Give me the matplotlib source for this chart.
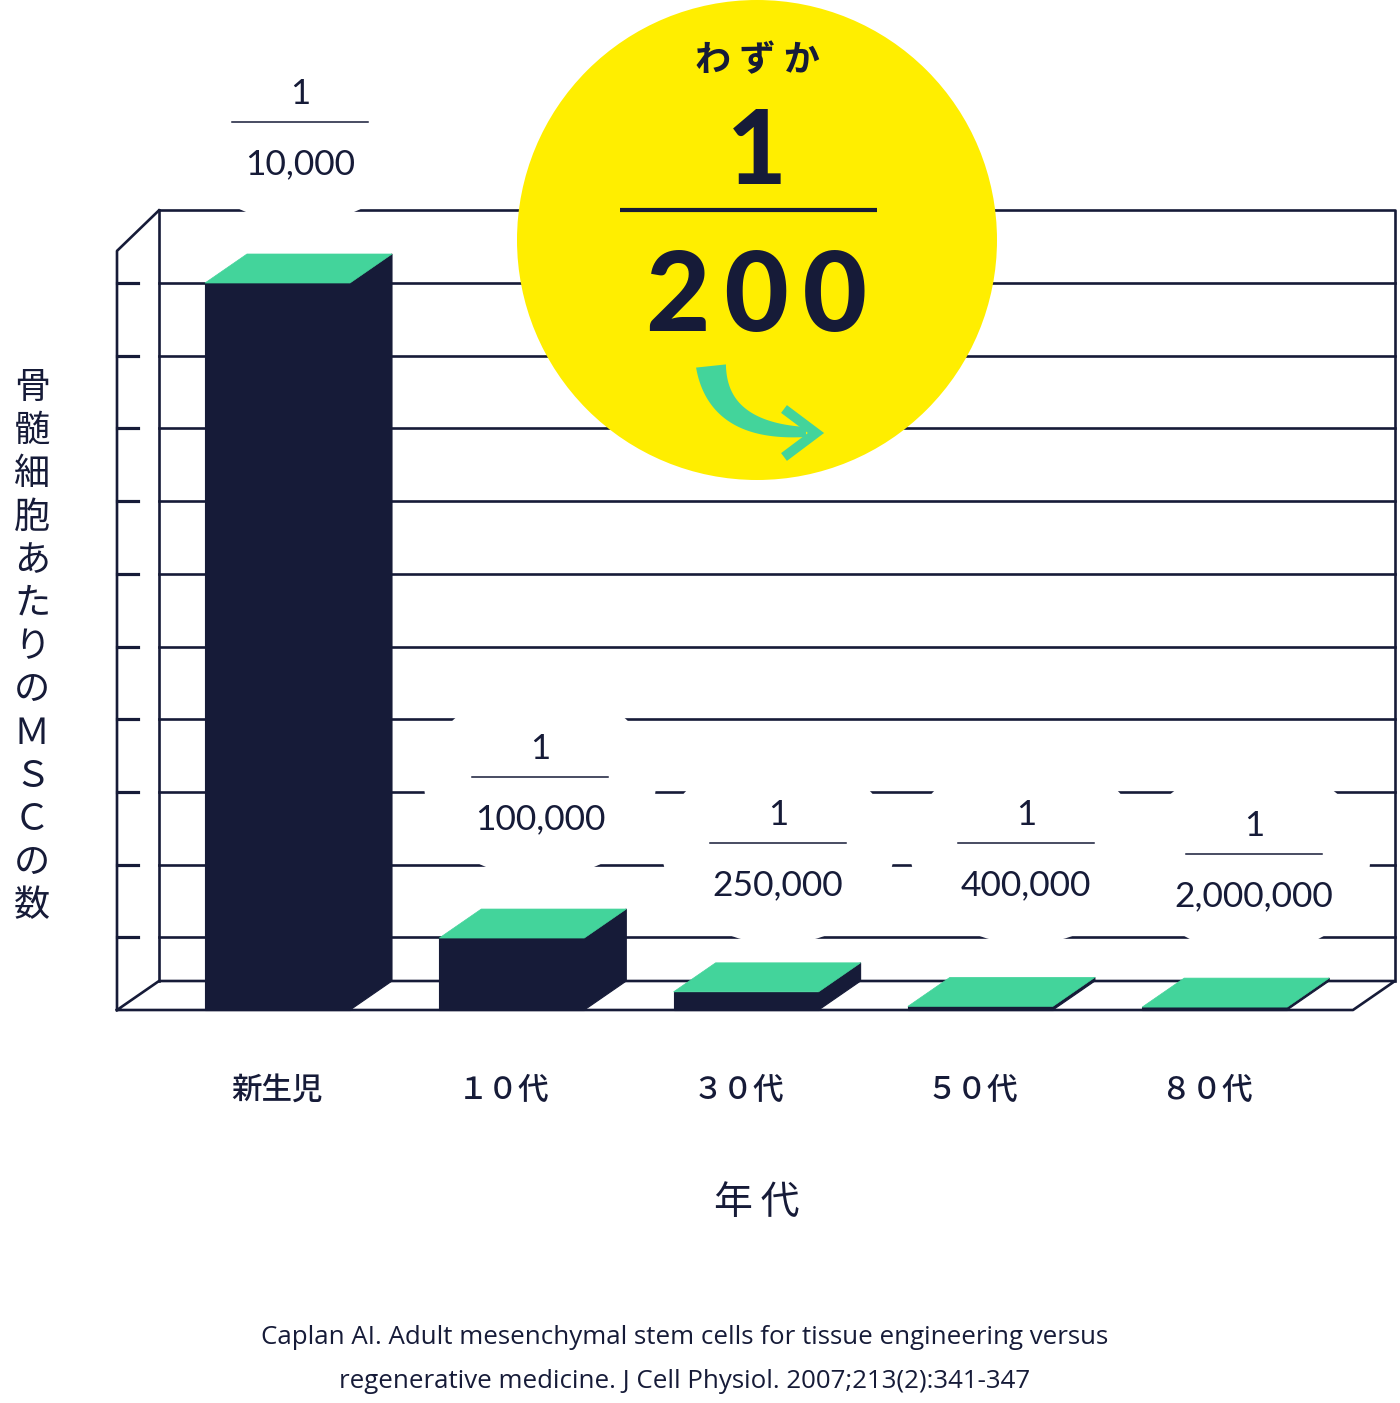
import numpy as np
import matplotlib
matplotlib.use("Agg")
import matplotlib.pyplot as plt
from matplotlib.patches import Polygon, Ellipse

plt.rcParams['font.family'] = ['Noto Sans CJK JP', 'DejaVu Sans']

# ---------------- data ----------------
categories = ["新生児", "１０代", "３０代", "５０代", "８０代"]
denominators = ["10,000", "100,000", "250,000", "400,000", "2,000,000"]
# bar heights in grid units as drawn in the picture (newborn = 10 units)
bar_heights = [10.0, 0.99, 0.25, 0.05, 0.04]
y_label = "骨髄細胞あたりのＭＳＣの数"
x_label = "年代"
badge_lead = "わずか"
badge_num = "1"
badge_den = "200"
citation = ["Caplan AI. Adult mesenchymal stem cells for tissue engineering versus",
            "regenerative medicine. J Cell Physiol. 2007;213(2):341-347"]

NAVY = "#161b38"
GREEN = "#43d49b"
YELLOW = "#ffee00"

W, H = 1400, 1403
fig = plt.figure(figsize=(W / 100, H / 100), dpi=100)
ax = fig.add_axes([0, 0, 1, 1])
# x in pixels, y in grid units (0 at floor front, 1 unit = 72.7 px)
UNIT = 72.7
Y0 = 1010
ax.set_xlim(0, W)
ax.set_ylim((Y0 - H) / UNIT, Y0 / UNIT)
ax.axis("off")

def u(ypx):
    return (Y0 - ypx) / UNIT

DX = 42              # depth offset in px
DY = 29 / UNIT       # depth offset in units
N_GRID = 10
TOP = 11             # top of the back wall in units
X_FRONT_L = 117
X_BACK_L = X_FRONT_L + DX
X_BACK_R = 1395
X_FRONT_R = X_BACK_R - DX
lw = 1.9

# ---------- frame ----------
ax.plot([X_BACK_L, X_BACK_R, X_BACK_R], [TOP, TOP, DY], color=NAVY, lw=lw, zorder=2)
ax.plot([X_BACK_L, X_BACK_L], [TOP, DY], color=NAVY, lw=lw, zorder=2)
ax.plot([X_FRONT_L, X_FRONT_L, X_BACK_L], [0, TOP - DY * 1.4, TOP], color=NAVY, lw=lw, zorder=2)
ax.plot([X_FRONT_L, X_FRONT_R, X_BACK_R, X_BACK_L, X_FRONT_L],
        [0, 0, DY, DY, 0], color=NAVY, lw=lw, zorder=2)
for k in range(1, N_GRID + 1):
    ax.plot([X_BACK_L, X_BACK_R], [k, k], color=NAVY, lw=lw, zorder=2)
    ax.plot([X_FRONT_L, X_FRONT_L + 21], [k, k], color=NAVY, lw=lw * 1.2, zorder=2)

# ---------- bars ----------
bar_left0 = 205
bar_w = 145
pitch = 234.3
for i, h in enumerate(bar_heights):
    x0 = bar_left0 + i * pitch
    x1 = x0 + bar_w
    ax.add_patch(Polygon([(x0, 0), (x1, 0), (x1, h), (x0, h)], closed=True,
                         facecolor=NAVY, edgecolor=NAVY, lw=0.8, zorder=4))
    ax.add_patch(Polygon([(x1, 0), (x1 + DX, DY), (x1 + DX, h + DY), (x1, h)], closed=True,
                         facecolor=NAVY, edgecolor=NAVY, lw=0.8, zorder=4))
    ax.add_patch(Polygon([(x0, h), (x1, h), (x1 + DX, h + DY), (x0 + DX, h + DY)], closed=True,
                         facecolor=GREEN, edgecolor=GREEN, lw=0.5, zorder=5))

# ---------- fraction labels ----------
label_pos = [(300, 122), (540, 777), (778, 843), (1026, 843), (1254, 854)]
num_font = ['Lato', 'DejaVu Sans']
for (cx, ly), den in zip(label_pos, denominators):
    ax.add_patch(Ellipse((cx, u(ly + 6)), 232, 190 / UNIT, facecolor="white",
                         edgecolor="none", zorder=3))
    ax.plot([cx - 68, cx + 68], [u(ly), u(ly)], color=NAVY, lw=1.1, zorder=6)
    ax.text(cx, u(ly - 28), "1", ha="center", va="center", fontsize=25,
            family=num_font, color=NAVY, zorder=6)
    ax.text(cx, u(ly + 42), den, ha="center", va="center", fontsize=25.5,
            family=num_font, color=NAVY, zorder=6)

# ---------- badge ----------
CX, CY, R = 757, 240, 240
ax.add_patch(Ellipse((CX, u(CY)), 2 * R, 2 * R / UNIT, facecolor=YELLOW,
                     edgecolor="none", zorder=7))
ax.text(CX, u(61), " ".join(badge_lead), ha="center", va="center", fontsize=26,
        fontweight="bold", color=NAVY, zorder=8)
ax.text(CX, u(154), badge_num, ha="center", va="center", fontsize=74,
        fontweight="black", family=['Lato', 'DejaVu Sans'], color=NAVY, zorder=8)
ax.plot([620, 877], [u(210), u(210)], color=NAVY, lw=3, zorder=8, solid_capstyle="butt")
ax.text(CX, u(298), "\u2009".join(badge_den), ha="center", va="center",
        fontsize=80, fontweight="black", family=['Lato', 'DejaVu Sans'],
        color=NAVY, zorder=8)

# green curved arrow (tapered)
t = np.linspace(0, 1, 60)
P0 = np.array([711, 366.0]); P1 = np.array([718, 432.0]); P2 = np.array([806, 432.0])
pts = ((1 - t) ** 2)[:, None] * P0 + (2 * (1 - t) * t)[:, None] * P1 + (t ** 2)[:, None] * P2
d = (2 * (1 - t))[:, None] * (P1 - P0) + (2 * t)[:, None] * (P2 - P1)
nrm = np.stack([-d[:, 1], d[:, 0]], axis=1)
nrm /= np.linalg.norm(nrm, axis=1)[:, None]
wid = 30 - 20 * t
left = pts + nrm * (wid / 2)[:, None]
right = pts - nrm * (wid / 2)[:, None]
poly = np.vstack([left, right[::-1]])
ax.add_patch(Polygon(np.column_stack([poly[:, 0], u(poly[:, 1])]), closed=True,
                     facecolor=GREEN, edgecolor="none", zorder=8))
ax.plot([784, 816, 784], [u(409), u(433), u(457)], color=GREEN, lw=7,
        solid_joinstyle="miter", solid_capstyle="butt", zorder=8)

# ---------- axis labels ----------
for j, ch in enumerate(y_label):
    ax.text(32, u(388 + j * 43.2), ch, ha="center", va="center", fontsize=26,
            color=NAVY, zorder=6)

for i, cat in enumerate(categories):
    cx = bar_left0 + i * pitch + bar_w / 2
    shift = 0 if i == 0 else -8
    ax.text(cx + shift, u(1090), cat, ha="center", va="center", fontsize=22,
            color=NAVY, fontweight="medium", zorder=6)

ax.text(757, u(1203), "\u2009".join(x_label), ha="center", va="center", fontsize=28,
        color=NAVY, zorder=6)

for k, line in enumerate(citation):
    ax.text(685, u(1337 + 44 * k), line, ha="center", va="center", fontsize=18.6,
            family=['Open Sans', 'DejaVu Sans'], color=NAVY, zorder=6)

fig.savefig("out.png", dpi=100, facecolor="white")
